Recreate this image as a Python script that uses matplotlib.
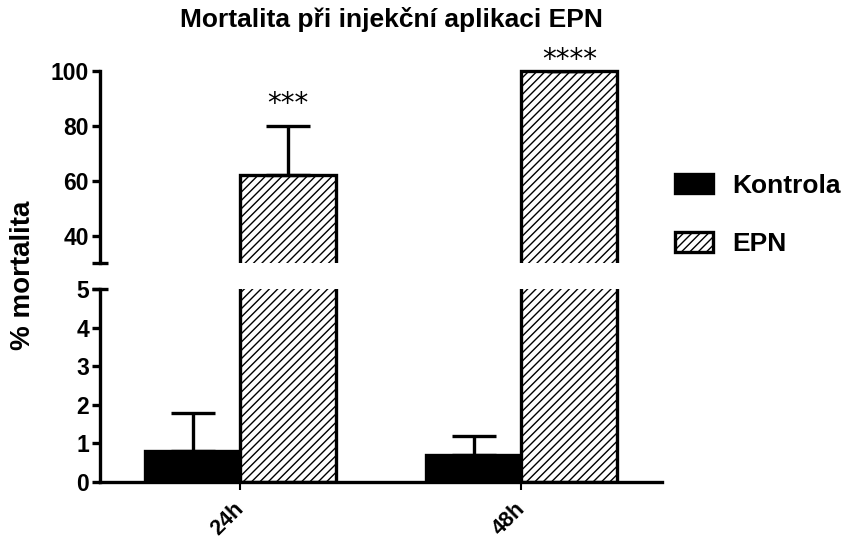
import matplotlib
matplotlib.use("Agg")
import matplotlib.pyplot as plt
import numpy as np
from matplotlib.transforms import Bbox, TransformedBbox

plt.rcParams["font.family"] = ["Liberation Sans", "DejaVu Sans"]
plt.rcParams["font.weight"] = "bold"
plt.rcParams["hatch.linewidth"] = 1.0

# Data
groups = ["24h", "48h"]
series = ["Kontrola", "EPN"]
kontrola_mean = [0.8, 0.7]
kontrola_err = [1.0, 0.5]
epn_mean = [62, 100]
epn_err = [18, 0]
stars = ["***", "****"]
star_offset = [6, -2]  # points above the bar / error cap

title = "Mortalita při injekční aplikaci EPN"
ylabel = "% mortalita"

upper_lim = (30, 100)
upper_ticks = [40, 60, 80, 100]
lower_lim = (0, 5)
lower_ticks = [0, 1, 2, 3, 4, 5]

W, H = 845, 539
fig = plt.figure(figsize=(W / 100, H / 100), dpi=100)

left, right = 100, 662
ax_up = fig.add_axes([left / W, 1 - 263 / H, (right - left) / W, (263 - 71) / H])
ax_lo = fig.add_axes([left / W, 1 - 482 / H, (right - left) / W, (482 - 289) / H])

x = np.arange(len(groups))
width = 0.34
lw = 2.4

for ax in (ax_up, ax_lo):
    b1 = ax.bar(x - width / 2, kontrola_mean, width, color="black",
                edgecolor="black", linewidth=lw, label=series[0])
    b2 = ax.bar(x + width / 2, epn_mean, width, color="white",
                edgecolor="black", linewidth=lw, hatch="////", label=series[1])
    ax.errorbar(x - width / 2, kontrola_mean, yerr=[[0, 0], kontrola_err],
                fmt="none", ecolor="black", elinewidth=lw, capsize=16,
                capthick=lw, zorder=1)
    ax.errorbar(x + width / 2, epn_mean, yerr=[[0, 0], epn_err],
                fmt="none", ecolor="black", elinewidth=lw, capsize=16,
                capthick=lw, zorder=1)
    ax.set_xlim(-0.5, 1.5)
    for side in ("top", "right"):
        ax.spines[side].set_visible(False)
    ax.spines["left"].set_linewidth(lw)
    ax.spines["bottom"].set_linewidth(lw)
    ax.tick_params(axis="y", width=lw, length=6, labelsize=16.5, pad=2)
    ax.tick_params(axis="x", width=1.5, length=6, labelsize=15.5, pad=11)

# let the 100 % bar's top edge show above the upper clip box
clip = TransformedBbox(Bbox([[0, 0], [1, 1.03]]), ax_up.transAxes)
for p in ax_up.patches:
    p.set_clip_box(clip)

ax_up.set_ylim(*upper_lim)
ax_up.set_yticks(upper_ticks)
ax_up.spines["bottom"].set_visible(False)
ax_up.set_xticks([])

ax_lo.set_ylim(*lower_lim)
ax_lo.set_yticks(lower_ticks)
ax_lo.set_xticks(x)
ax_lo.set_xticklabels(groups, rotation=45, ha="right", va="center",
                      rotation_mode="anchor")

# break marks at the cut ends of the y axis
ax_up.plot([-0.014, 0.014], [0, 0], transform=ax_up.transAxes, color="black",
           linewidth=lw, clip_on=False, solid_capstyle="butt")
ax_lo.plot([-0.014, 0.014], [1, 1], transform=ax_lo.transAxes, color="black",
           linewidth=lw, clip_on=False, solid_capstyle="butt")

# significance stars
for xi, m, e, s, off in zip(x, epn_mean, epn_err, stars, star_offset):
    ax_up.annotate(s, (xi + width / 2, m + e), xytext=(0, off),
                   textcoords="offset points", ha="center", va="bottom",
                   fontsize=20, fontweight="normal", family="DejaVu Sans")

fig.text(391 / W, 1 - 19 / H, title, ha="center", va="center", fontsize=19,
         fontweight="bold")
fig.text(23 / W, 1 - 275 / H, ylabel, ha="center", va="center", rotation=90,
         fontsize=20, fontweight="bold")

ax_up.legend(handles=[b1, b2], labels=series, loc="center left",
             bbox_to_anchor=(0.981, 1 - (215 - 71) / (263 - 71)), frameon=False,
             fontsize=19, handlelength=1.45, handleheight=0.75,
             handletextpad=0.7, labelspacing=1.3)

fig.savefig("out.png", dpi=100)
